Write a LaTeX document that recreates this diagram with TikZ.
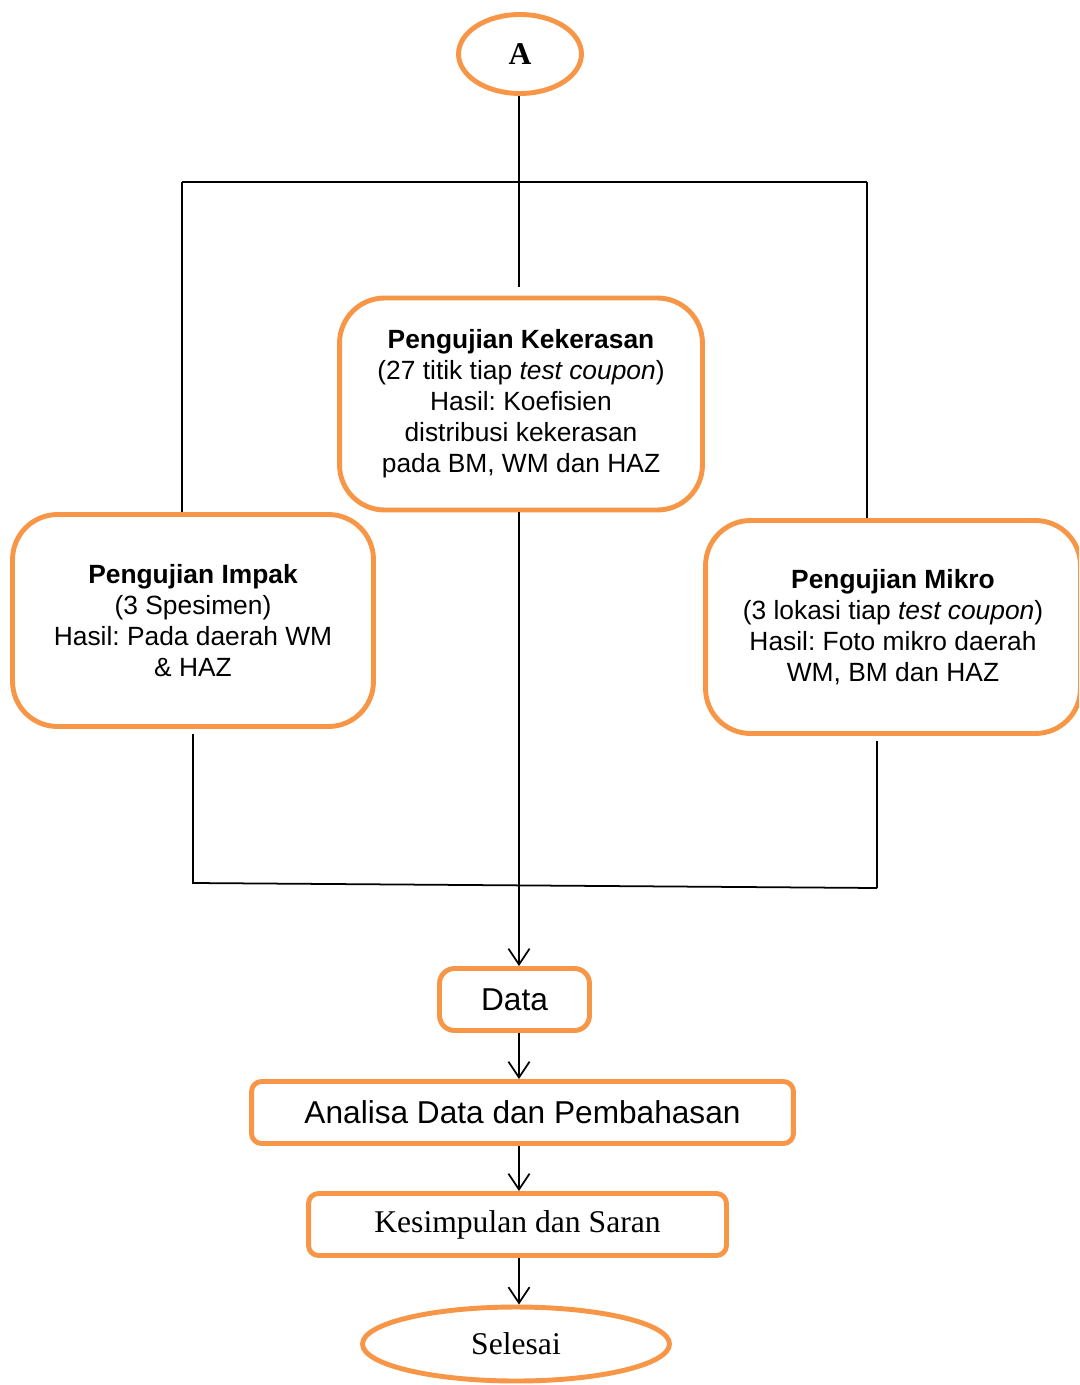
\documentclass[tikz,border=0pt]{standalone}
\usepackage{fontspec}
\setmainfont{Liberation Serif}
\setsansfont{Liberation Sans}
\usetikzlibrary{arrows.meta,shapes.geometric}
\definecolor{accentorange}{RGB}{247,150,70}
\frenchspacing

\begin{document}
\begin{tikzpicture}[x=0.02cm, y=-0.02cm,
        ujibox/.style={draw=accentorange, line width=2.8pt, rounded corners=0.9cm,
            align=center, inner sep=0pt, minimum height=4.24cm,
            font=\sffamily\fontsize{15}{17.6}\selectfont},
        flowbox/.style={draw=accentorange, line width=2.8pt, rounded corners=0.2cm,
            inner sep=0pt, minimum height=1.24cm},
        terminal/.style={draw=accentorange, line width=2.8pt, ellipse, inner sep=0pt},
        link/.style={line width=1pt},
        arr/.style={line width=1pt, -{Straight Barb[length=9pt, width=12pt]}}]
    \clip (0,0) rectangle (1079,1385);

    % start and end
    \node[terminal, minimum width=2.46cm, minimum height=1.58cm,
        font=\fontsize{18}{21}\selectfont\bfseries] (A) at (520,54) {A};
    \node[terminal, minimum width=6.14cm, minimum height=1.48cm,
        font=\fontsize{18}{21}\selectfont] (selesai) at (516,1344) {Selesai};

    % tests
    \node[ujibox, minimum width=7.26cm] (keras) at (521,404)
        {\textbf{Pengujian Kekerasan}\\(27 titik tiap \textit{test coupon})\\Hasil: Koefisien\\distribusi kekerasan\\pada BM, WM dan HAZ};
    \node[ujibox, minimum width=7.22cm] (impak) at (193,620.5)
        {\textbf{Pengujian Impak}\\(3 Spesimen)\\Hasil: Pada daerah WM\\\& HAZ};
    \node[ujibox, minimum width=7.5cm, minimum height=4.26cm] (mikro) at (893,627)
        {\textbf{Pengujian Mikro}\\(3 lokasi tiap \textit{test coupon})\\Hasil: Foto mikro daerah\\WM, BM dan HAZ};

    % results
    \node[flowbox, rounded corners=0.3cm, minimum width=3cm,
        font=\sffamily\fontsize{18}{21}\selectfont] (data) at (514.5,999.5) {Data};
    \node[flowbox, minimum width=10.84cm,
        font=\sffamily\fontsize{18}{21}\selectfont] (analisa) at (522.5,1112.5) {Analisa Data dan Pembahasan};
    \node[flowbox, minimum width=8.36cm,
        font=\fontsize{18}{21}\selectfont] (simpul) at (517.5,1224.5) {\raisebox{-2.5pt}{Kesimpulan dan Saran}};

    \coordinate (spine) at (519,0);
    \coordinate (topL) at (182,182);
    \coordinate (topR) at (867,182);
    \coordinate (botL) at (193,883);
    \coordinate (botR) at (877,888);

    % branching
    \draw[link] (A.south -| spine) -- ([yshift=5pt]keras.north -| spine);
    \draw[link] (topL) -- (topR);
    \draw[link] (topL) -- (topL |- impak.north);
    \draw[link] (topR) -- (topR |- mikro.north);

    % joining
    \draw[link] ([yshift=-3pt]impak.south -| botL) -- (botL) -- (botR);
    \draw[link] ([yshift=-3pt]mikro.south -| botR) -- (botR);
    \draw[arr] (keras.south -| spine) -- (data.north -| spine);
    \draw[arr] (data.south -| spine) -- (analisa.north -| spine);
    \draw[arr] (analisa.south -| spine) -- (simpul.north -| spine);
    \draw[arr] (simpul.south -| spine) -- (selesai.north -| spine);
\end{tikzpicture}
\end{document}
